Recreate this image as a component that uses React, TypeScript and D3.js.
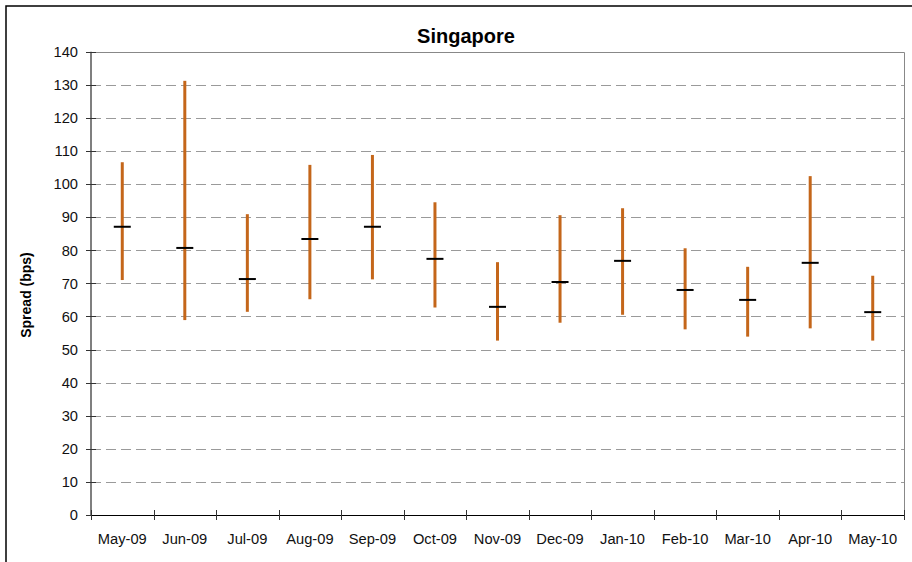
import React from 'react';
import * as d3 from 'd3';

const months = ['May-09', 'Jun-09', 'Jul-09', 'Aug-09', 'Sep-09', 'Oct-09', 'Nov-09', 'Dec-09', 'Jan-10', 'Feb-10', 'Mar-10', 'Apr-10', 'May-10'];
const highs = [106.6, 131.2, 90.9, 105.8, 108.8, 94.5, 76.4, 90.6, 92.7, 80.6, 75.0, 102.4, 72.3];
const lows = [71.0, 58.9, 61.4, 65.2, 71.2, 62.7, 52.7, 58.1, 60.5, 56.1, 53.9, 56.4, 52.7];
const means = [87.1, 80.7, 71.3, 83.4, 87.1, 77.4, 62.9, 70.4, 76.8, 68.0, 65.0, 76.2, 61.3];
const yTicks = [0, 10, 20, 30, 40, 50, 60, 70, 80, 90, 100, 110, 120, 130, 140];

const W = 912;
const H = 562;
const left = 91;
const right = 904;
const top = 51.7;
const bottom = 515;
const font = 'Arial, "Liberation Sans", sans-serif';

export default function App() {
  const x = d3.scaleBand().domain(months).range([left, right]);
  const y = d3.scaleLinear().domain([0, 140]).range([bottom, top]);
  const tickX = months.map((m) => x(m) as number).concat([right]);

  return (
    <div style={{ position: 'absolute', left: 0, top: 0 }}>
      <svg width={W} height={H} style={{ display: 'block', background: 'white' }}>
        {/* outer chart box, runs off the picture to the right and bottom */}
        <rect x={6} y={6} width={1000} height={1000} fill="white" stroke="#000" strokeWidth={1.5} />

        <text x={466} y={43} textAnchor="middle" fontFamily={font} fontWeight="bold" fontSize={20}>
          Singapore
        </text>

        {/* gridlines */}
        {yTicks.slice(1, -1).map((t) => (
          <line key={t} x1={left} x2={right} y1={Math.round(y(t)) + 0.5} y2={Math.round(y(t)) + 0.5}
            stroke="#9a9a9a" strokeWidth={1} strokeDasharray="10,5" />
        ))}

        {/* plot border top/right */}
        <path d={`M${left},${Math.round(top) + 0.5}H${right + 0.5}V${bottom}`} fill="none" stroke="#888" strokeWidth={1} />

        {/* y axis */}
        <line x1={left} x2={left} y1={top} y2={bottom} stroke="#555" strokeWidth={1.5} />
        {yTicks.map((t) => (
          <g key={t}>
            <line x1={86} x2={96} y1={Math.round(y(t)) + 0.5} y2={Math.round(y(t)) + 0.5} stroke="#333" strokeWidth={1} />
            <text x={78} y={y(t)} dy="0.36em" textAnchor="end" fontFamily={font} fontSize={14.7} fill="#111">
              {t}
            </text>
          </g>
        ))}
        <text transform="translate(31,295) rotate(-90)" textAnchor="middle"
          fontFamily={font} fontWeight="bold" fontSize={14}>
          Spread (bps)
        </text>

        {/* x axis */}
        <line x1={left} x2={right} y1={bottom + 0.5} y2={bottom + 0.5} stroke="#000" strokeWidth={1} />
        {tickX.map((tx, i) => (
          <line key={i} x1={Math.round(tx) + 0.5} x2={Math.round(tx) + 0.5} y1={510} y2={520} stroke="#333" strokeWidth={1} />
        ))}
        {months.map((m) => (
          <text key={m} x={(x(m) as number) + x.bandwidth() / 2} y={544} textAnchor="middle"
            fontFamily={font} fontSize={14.7} fill="#111">
            {m}
          </text>
        ))}

        {/* high-low ranges and means */}
        {months.map((m, i) => {
          const cx = (x(m) as number) + x.bandwidth() / 2;
          return (
            <g key={m}>
              <line x1={cx} x2={cx} y1={y(highs[i])} y2={y(lows[i])} stroke="#C4661A" strokeWidth={3} />
              <line x1={cx - 8.5} x2={cx + 8.5} y1={y(means[i])} y2={y(means[i])} stroke="#000" strokeWidth={2} />
            </g>
          );
        })}
      </svg>
    </div>
  );
}
